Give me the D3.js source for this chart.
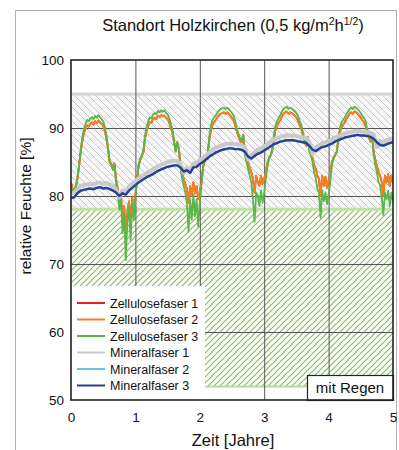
<!DOCTYPE html>
<html>
<head>
<meta charset="utf-8">
<script src="https://cdn.jsdelivr.net/npm/d3@7"></script>
<style>
  body { margin: 0; background: #fff; }
  text { font-family: "Liberation Sans", Arial, sans-serif; }
</style>
</head>
<body>
<svg id="chart" width="399" height="450"></svg>
<script>
// ---- data ----
var xTicks = [0, 1, 2, 3, 4, 5];
var yTicks = [50, 60, 70, 80, 90, 100];
var grayZone = [78.2, 95];   // hatched gray band
var greenZone = [52, 78.2];  // hatched green band

// zellulose series, one value every 0.025 years
var zellStep = 0.025;
var zellulose3 = [
  81.5, 80.6, 80.8, 81.2, 82.5, 84.5, 86.8, 88.6, 89.8, 90.6, 91.2, 91.0, 91.4, 91.6, 91.3, 91.8, 91.5, 91.9, 91.6, 91.3,
  91.0, 90.2, 89.0, 87.2, 85.0, 84.6, 83.8, 84.6, 81.8, 80.5, 78.0, 79.5, 74.5, 77.5, 70.6, 76.0, 78.5, 73.5, 79.0, 76.5,
  79.5, 82.0, 84.6, 85.5, 86.0, 86.8, 89.0, 90.2, 91.0, 91.6, 91.4, 92.0, 92.2, 92.0, 92.5, 92.3, 92.6, 92.4, 92.6, 92.2,
  92.0, 91.5, 90.6, 89.8, 88.2, 86.5, 88.0, 87.0, 84.0, 82.6, 81.5, 80.5, 79.0, 74.8, 79.5, 76.5, 80.2, 77.0, 79.5, 75.5,
  79.0, 81.5, 84.1, 85.2, 85.8, 86.5, 89.0, 90.5, 91.2, 91.6, 91.9, 92.3, 92.6, 92.8, 92.9, 93.0, 92.8, 93.0, 92.8, 92.5,
  92.2, 91.8, 91.0, 90.0, 89.2, 88.5, 88.0, 89.0, 86.0, 85.0, 84.0, 83.0, 82.0, 79.5, 76.2, 80.5, 80.0, 78.5, 80.8, 79.0,
  80.5, 82.5, 84.2, 85.5, 86.0, 86.8, 89.0, 90.4, 91.0, 91.5, 91.9, 92.4, 92.8, 93.0, 93.1, 92.8, 93.0, 92.9, 92.7, 92.5,
  92.2, 91.8, 91.0, 90.5, 89.5, 88.5, 87.5, 88.5, 86.5, 86.0, 85.0, 83.5, 82.6, 81.1, 80.5, 76.8, 80.8, 79.2, 80.5, 78.8,
  80.0, 82.0, 84.4, 85.5, 86.0, 86.5, 88.5, 90.0, 90.8, 91.2, 91.5, 92.0, 92.4, 92.8, 93.0, 92.8, 93.1, 93.0, 92.8, 92.5,
  92.2, 91.8, 91.5, 91.0, 89.8, 89.0, 88.3, 88.8, 86.0, 84.5, 83.5, 82.0, 81.6, 79.8, 77.2, 80.5, 79.5, 80.8, 78.5, 80.5,
  79.2
];
var zellulose2 = [
  82.0, 81.0, 81.0, 81.4, 82.6, 84.4, 86.4, 88.0, 89.2, 89.9, 90.4, 90.2, 90.6, 90.8, 90.5, 91.0, 90.7, 91.1, 90.8, 90.6,
  90.3, 89.6, 88.5, 86.9, 85.0, 84.8, 84.0, 84.8, 82.4, 81.2, 79.2, 80.2, 76.5, 78.5, 74.0, 77.5, 79.2, 76.0, 79.8, 78.0,
  80.2, 82.3, 84.5, 85.3, 85.8, 86.5, 88.5, 89.6, 90.3, 90.9, 90.8, 91.3, 91.5, 91.3, 91.8, 91.6, 91.9, 91.7, 91.8, 91.5,
  91.3, 90.8, 90.0, 89.3, 87.9, 86.6, 87.8, 87.0, 84.5, 83.4, 82.5, 81.8, 81.0, 79.0, 81.5, 80.0, 82.0, 80.4, 81.5, 79.5,
  80.5, 82.0, 84.2, 85.2, 85.7, 86.4, 88.5, 89.8, 90.5, 90.9, 91.2, 91.6, 91.9, 92.1, 92.2, 92.3, 92.1, 92.3, 92.1, 91.8,
  91.5, 91.1, 90.4, 89.5, 88.8, 88.2, 87.8, 89.0, 86.5, 85.8, 85.0, 84.2, 83.5, 82.5, 80.5, 83.0, 82.0, 81.5, 83.0, 81.8,
  82.5, 83.5, 84.8, 85.6, 86.0, 86.6, 88.5, 89.7, 90.3, 90.8, 91.2, 91.7, 92.1, 92.3, 92.4, 92.1, 92.3, 92.2, 92.0, 91.8,
  91.5, 91.1, 90.4, 89.9, 89.0, 88.2, 87.4, 88.7, 86.8, 86.5, 85.6, 84.6, 84.0, 83.0, 82.5, 80.0, 83.0, 81.5, 82.8, 81.2,
  82.2, 83.4, 84.9, 85.6, 86.0, 86.4, 88.0, 89.4, 90.1, 90.5, 90.8, 91.3, 91.7, 92.1, 92.3, 92.1, 92.4, 92.3, 92.1, 91.8,
  91.5, 91.1, 90.8, 90.3, 89.3, 88.6, 88.0, 88.9, 86.5, 85.3, 84.5, 83.5, 83.0, 82.0, 80.0, 83.0, 82.0, 83.2, 81.5, 83.0,
  82.0
];
var zellulose1 = zellulose2; // lies under Zellulosefaser 2

// mineral wool series, one value every 0.05 years
var minStep = 0.05;
var mineral3 = [
  79.7, 79.8, 80.4, 80.8, 80.9, 81.0, 81.1, 81.0, 81.2, 81.3, 81.1, 81.2, 81.0, 80.8, 80.5, 80.0, 80.4, 80.2, 80.8, 81.2,
  81.6, 82.0, 82.3, 82.6, 82.9, 83.1, 83.4, 83.7, 83.9, 84.1, 84.3, 84.4, 84.5, 84.5, 84.2, 83.6, 83.8, 83.4, 84.2, 84.3,
  84.7, 85.0, 85.4, 85.8, 86.1, 86.4, 86.6, 86.8, 86.9, 87.0, 87.0, 86.9, 86.9, 86.8, 86.5, 85.8, 85.5, 85.9, 86.2, 86.4,
  86.7, 87.0, 87.3, 87.6, 87.8, 88.0, 88.1, 88.2, 88.2, 88.2, 88.1, 88.0, 87.9, 87.8, 87.4, 86.8, 86.6, 86.9, 87.2, 87.3,
  87.5, 87.7, 88.0, 88.2, 88.4, 88.6, 88.7, 88.8, 88.9, 89.0, 88.9, 88.9, 88.8, 88.7, 88.4, 87.9, 87.5, 87.4, 87.6, 87.8,
  87.9
];
var mineral1 = [
  80.3, 80.5, 81.0, 81.5, 81.6, 81.7, 81.8, 81.7, 81.9, 82.0, 81.8, 81.9, 81.7, 81.4, 81.0, 79.8, 80.8, 80.6, 81.4, 81.8,
  82.2, 82.6, 82.9, 83.2, 83.5, 83.8, 84.1, 84.4, 84.6, 84.8, 85.0, 85.1, 85.2, 85.2, 84.7, 83.4, 84.2, 83.8, 84.8, 84.9,
  85.3, 85.6, 86.0, 86.4, 86.8, 87.1, 87.3, 87.5, 87.6, 87.7, 87.7, 87.6, 87.6, 87.5, 87.1, 85.4, 86.0, 86.4, 86.8, 87.0,
  87.3, 87.6, 88.0, 88.3, 88.5, 88.7, 88.8, 88.9, 88.9, 88.9, 88.8, 88.7, 88.6, 88.5, 88.0, 86.2, 87.2, 87.4, 87.8, 87.9,
  88.1, 88.3, 88.6, 88.8, 89.0, 89.2, 89.3, 89.4, 89.5, 89.6, 89.5, 89.5, 89.4, 89.3, 89.0, 87.2, 88.1, 87.9, 88.2, 88.4,
  88.5
];
var mineral2 = mineral3; // lies under Mineralfaser 3

var seriesNames = ["Zellulosefaser 1", "Zellulosefaser 2", "Zellulosefaser 3",
                   "Mineralfaser 1", "Mineralfaser 2", "Mineralfaser 3"];
var seriesValues = [zellulose1, zellulose2, zellulose3, mineral1, mineral2, mineral3];
var seriesSteps = [zellStep, zellStep, zellStep, minStep, minStep, minStep];
var seriesColors = ["#e2231a", "#f58220", "#5cb547", "#c9c9c9", "#6cc5e6", "#2c3f93"];
var seriesWidths = [1.8, 1.8, 1.8, 4, 2.2, 2.4];

// ---- layout ----
var svg = d3.select("#chart");
var pLeft = 71, pRight = 393, pTop = 60, pBottom = 400;
var x = d3.scaleLinear().domain([0, 5]).range([pLeft, pRight]);
var y = d3.scaleLinear().domain([50, 100]).range([pBottom, pTop]);

// outer light frame
svg.append("rect").attr("x", 15.5).attr("y", 10.5).attr("width", 381).attr("height", 460)
  .attr("fill", "none").attr("stroke", "#b0b0b0").attr("stroke-width", 1);

// hatch patterns
var defs = svg.append("defs");
var gp = defs.append("pattern").attr("id", "hatchGray")
  .attr("patternUnits", "userSpaceOnUse").attr("width", 7).attr("height", 7);
gp.append("rect").attr("width", 7).attr("height", 7).attr("fill", "#f7f7f7");
gp.append("path").attr("d", "M0,0L7,7M-1,6L1,8M6,-1L8,1")
  .attr("stroke", "#c2c2c2").attr("stroke-width", 0.9);

var gg = defs.append("pattern").attr("id", "hatchGreen")
  .attr("patternUnits", "userSpaceOnUse").attr("width", 6).attr("height", 6);
gg.append("rect").attr("width", 6).attr("height", 6).attr("fill", "#ffffff");
gg.append("path").attr("d", "M0,6L6,0M-1,1L1,-1M5,7L7,5")
  .attr("stroke", "#7cc14a").attr("stroke-width", 1.1);

svg.append("clipPath").attr("id", "plotClip").append("rect")
  .attr("x", pLeft).attr("y", pTop).attr("width", pRight - pLeft).attr("height", pBottom - pTop);

var plot = svg.append("g").attr("clip-path", "url(#plotClip)");

plot.append("rect").attr("x", pLeft).attr("y", y(grayZone[1]))
  .attr("width", pRight - pLeft).attr("height", y(grayZone[0]) - y(grayZone[1]))
  .attr("fill", "url(#hatchGray)");
plot.append("rect").attr("x", pLeft).attr("y", y(greenZone[1]))
  .attr("width", pRight - pLeft).attr("height", y(greenZone[0]) - y(greenZone[1]))
  .attr("fill", "url(#hatchGreen)");

// soft border lines of the bands
plot.append("line").attr("x1", pLeft).attr("x2", pRight)
  .attr("y1", y(grayZone[1])).attr("y2", y(grayZone[1]))
  .attr("stroke", "#d6d6d6").attr("stroke-width", 3);
plot.append("line").attr("x1", pLeft).attr("x2", pRight)
  .attr("y1", y(greenZone[1]) + 1).attr("y2", y(greenZone[1]) + 1)
  .attr("stroke", "#c2e0aa").attr("stroke-width", 3);
plot.append("line").attr("x1", pLeft).attr("x2", pRight)
  .attr("y1", y(greenZone[0])).attr("y2", y(greenZone[0]))
  .attr("stroke", "#b5dc95").attr("stroke-width", 2);

// grid lines
plot.append("g").attr("transform", "translate(0," + pBottom + ")")
  .call(d3.axisBottom(x).tickValues(xTicks.slice(1, -1)).tickSize(-(pBottom - pTop)).tickFormat(""))
  .call(function(g) { g.select(".domain").remove(); })
  .selectAll("line").attr("stroke", "#555").attr("stroke-width", 1);
plot.append("g").attr("transform", "translate(" + pLeft + ",0)")
  .call(d3.axisLeft(y).tickValues(yTicks.slice(1, -1)).tickSize(-(pRight - pLeft)).tickFormat(""))
  .call(function(g) { g.select(".domain").remove(); })
  .selectAll("line").attr("stroke", "#555").attr("stroke-width", 1);

// series
seriesValues.forEach(function(vals, i) {
  var step = seriesSteps[i];
  var line = d3.line()
    .x(function(d, j) { return x(j * step); })
    .y(function(d) { return y(d); });
  plot.append("path").datum(vals)
    .attr("d", line)
    .attr("fill", "none")
    .attr("stroke", seriesColors[i])
    .attr("stroke-width", seriesWidths[i])
    .attr("stroke-linejoin", "round");
});

// legend
var lg = svg.append("g");
lg.append("rect").attr("x", pLeft).attr("y", 286).attr("width", 134).attr("height", pBottom - 286)
  .attr("fill", "#fff");
seriesNames.forEach(function(name, i) {
  var yy = 303 + i * 16.5;
  lg.append("line").attr("x1", 77).attr("x2", 105).attr("y1", yy).attr("y2", yy)
    .attr("stroke", seriesColors[i]).attr("stroke-width", 2);
  lg.append("text").attr("x", 110).attr("y", yy + 4.5).text(name)
    .attr("font-size", "12.5px").attr("fill", "#111");
});

// "mit Regen" box
svg.append("rect").attr("x", 307.5).attr("y", 375.5).attr("width", 86).attr("height", 25)
  .attr("fill", "#fff").attr("stroke", "#222").attr("stroke-width", 1.2);
svg.append("text").attr("x", 350).attr("y", 393).attr("text-anchor", "middle")
  .attr("font-size", "15px").attr("fill", "#111").text("mit Regen");

// plot frame
svg.append("rect").attr("x", pLeft).attr("y", pTop).attr("width", pRight - pLeft).attr("height", pBottom - pTop)
  .attr("fill", "none").attr("stroke", "#222").attr("stroke-width", 1.6);

// axes labels
var ax = svg.append("g").attr("transform", "translate(0," + pBottom + ")")
  .call(d3.axisBottom(x).tickValues(xTicks).tickSize(0).tickPadding(12).tickFormat(d3.format("d")));
ax.select(".domain").remove();
ax.selectAll("text").attr("font-size", "13.5px").attr("fill", "#111")
  .style("font-family", "'Liberation Sans', Arial, sans-serif");

var ay = svg.append("g").attr("transform", "translate(" + pLeft + ",0)")
  .call(d3.axisLeft(y).tickValues(yTicks).tickSize(0).tickPadding(7).tickFormat(d3.format("d")));
ay.select(".domain").remove();
ay.selectAll("text").attr("font-size", "13.5px").attr("fill", "#111")
  .style("font-family", "'Liberation Sans', Arial, sans-serif");

svg.append("text").attr("x", 233).attr("y", 446).attr("text-anchor", "middle")
  .attr("font-size", "16.5px").attr("fill", "#111").text("Zeit [Jahre]");

svg.append("text").attr("transform", "translate(31,206) rotate(-90)")
  .attr("text-anchor", "middle").attr("font-size", "15.5px").attr("fill", "#111")
  .text("relative Feuchte [%]");

// title with super scripts
var title = svg.append("text").attr("x", 233).attr("y", 31).attr("text-anchor", "middle")
  .attr("font-size", "16.5px").attr("fill", "#111");
title.append("tspan").text("Standort Holzkirchen (0,5 kg/m");
title.append("tspan").attr("dy", -6).attr("font-size", "10.5px").text("2");
title.append("tspan").attr("dy", 6).text("h");
title.append("tspan").attr("dy", -6).attr("font-size", "10.5px").text("1/2");
title.append("tspan").attr("dy", 6).text(")");
</script>
</body>
</html>
